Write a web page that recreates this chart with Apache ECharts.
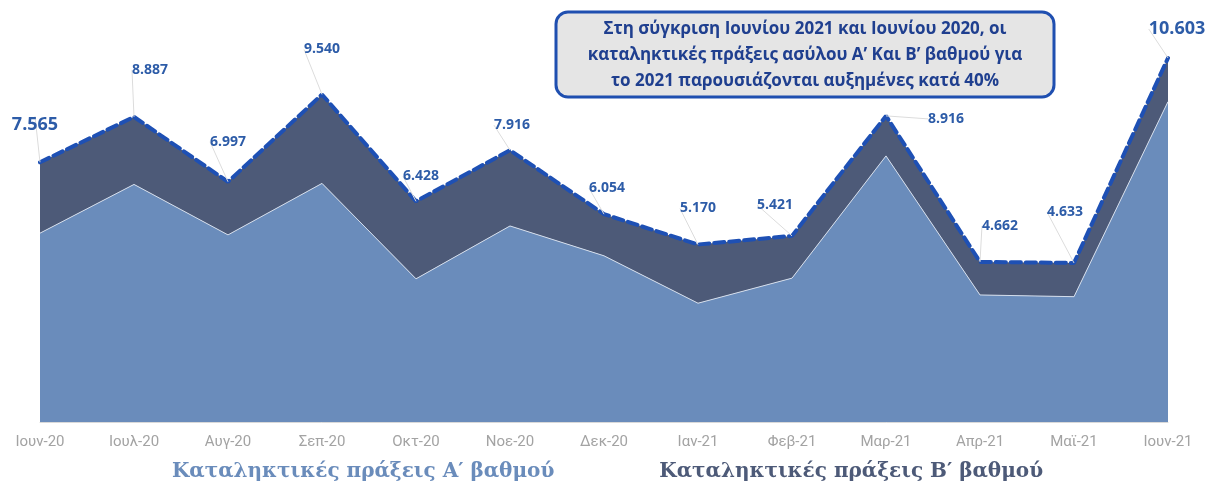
<!DOCTYPE html>
<html>
<head>
<meta charset="utf-8">
<script src="https://cdn.jsdelivr.net/npm/echarts@6/dist/echarts.min.js"></script>
<style>
  html, body { margin: 0; padding: 0; background: #fff; }
  #main { width: 1210px; height: 502px; }
</style>
</head>
<body>
<div id="main"></div>
<script>
// μήνες
const categories = ['Ιουν-20', 'Ιουλ-20', 'Αυγ-20', 'Σεπ-20', 'Οκτ-20', 'Νοε-20', 'Δεκ-20',
  'Ιαν-21', 'Φεβ-21', 'Μαρ-21', 'Απρ-21', 'Μαϊ-21', 'Ιουν-21'];
// καταληκτικές πράξεις Α' βαθμού
const praxeisA = [5500, 6920, 5450, 6950, 4170, 5710, 4840, 3460, 4190, 7750, 3700, 3650, 9330];
// καταληκτικές πράξεις Β' βαθμού
const praxeisB = [2065, 1967, 1547, 2590, 2258, 2206, 1214, 1710, 1231, 1166, 962, 983, 1273];

const nameA = 'Καταληκτικές πράξεις Α′ βαθμού';
const nameB = 'Καταληκτικές πράξεις Β′ βαθμού';

// μετατόπιση ετικετών (dx, dy) σε px
const labelOffsets = [[-5, -37], [16, -47], [0, -40], [0, -45], [5, -25], [2, -25], [3, -26],
  [0, -36], [-17, -31], [60, 3], [20, -36], [-9, -51], [9, -29]];

function fmt(n) {
  return String(n).replace(/\B(?=(\d{3})+(?!\d))/g, '.');
}

const myChart = echarts.init(document.getElementById('main'));

const option = {
  animation: false,
  grid: { left: 40, right: 42, top: 10, bottom: 80 },
  legend: {
    bottom: 15,
    left: 'center',
    icon: 'none',
    itemWidth: 0,
    itemGap: 100,
    selectedMode: false,
    data: [
      { name: nameA, textStyle: { color: '#6a8cbb' } },
      { name: nameB, textStyle: { color: '#4d5a78' } }
    ],
    textStyle: { fontFamily: 'DejaVu Serif', fontWeight: 'bold', fontSize: 20 }
  },
  graphic: [
    {
      type: 'rect',
      shape: { x: 556, y: 12, width: 498, height: 85, r: 12 },
      style: { fill: '#e5e5e5', stroke: '#1f4fb0', lineWidth: 3 },
      z: 10
    },
    {
      type: 'text',
      x: 805, y: 55,
      style: {
        text: 'Στη σύγκριση Ιουνίου 2021 και Ιουνίου 2020, οι\nκαταληκτικές πράξεις ασύλου Α’ Και Β’ βαθμού για\nτο 2021 παρουσιάζονται αυξημένες κατά 40%',
        align: 'center',
        verticalAlign: 'middle',
        fill: '#1f3f8f',
        font: 'bold 17px "Open Sans"',
        lineHeight: 26
      },
      z: 11
    }
  ],
  xAxis: {
    type: 'category',
    boundaryGap: false,
    data: categories,
    axisLine: { show: true, lineStyle: { color: '#d9d9d9' } },
    axisTick: { show: false },
    axisLabel: {
      color: '#a3a3a3',
      fontSize: 15,
      fontFamily: 'Roboto',
      margin: 13
    },
    splitLine: { show: false }
  },
  yAxis: {
    type: 'value',
    min: 0,
    max: 12000,
    show: false,
    splitLine: { show: false }
  },
  series: [
    {
      name: nameA,
      type: 'line',
      stack: 'total',
      data: praxeisA,
      symbol: 'none',
      lineStyle: { color: '#d3ddec', width: 1 },
      itemStyle: { color: '#6a8cbb' },
      areaStyle: { color: '#6a8cbb', opacity: 1 }
    },
    {
      name: nameB,
      type: 'line',
      stack: 'total',
      data: praxeisB.map((v, i) => (i === 0 || i === praxeisB.length - 1)
        ? { value: v, label: { fontSize: 18 } } : v),
      symbol: 'circle',
      symbolSize: 0,
      showSymbol: true,
      lineStyle: { color: '#1e50b4', width: 4, type: [10, 5], cap: 'round' },
      itemStyle: { color: '#4d5a78' },
      areaStyle: { color: '#4d5a78', opacity: 1 },
      label: {
        show: true,
        position: 'inside',
        color: '#2d5ca8',
        fontWeight: 'bold',
        fontSize: 14,
        fontFamily: 'Open Sans',
        formatter: p => fmt(praxeisA[p.dataIndex] + praxeisB[p.dataIndex])
      },
      labelLine: { show: true, lineStyle: { color: '#dcdcdc', width: 1 } },
      labelLayout: p => ({ dx: labelOffsets[p.dataIndex][0], dy: labelOffsets[p.dataIndex][1] }),
      z: 3
    }
  ]
};

myChart.setOption(option);
window.addEventListener('resize', () => {
  myChart.resize();
});
</script>
</body>
</html>
